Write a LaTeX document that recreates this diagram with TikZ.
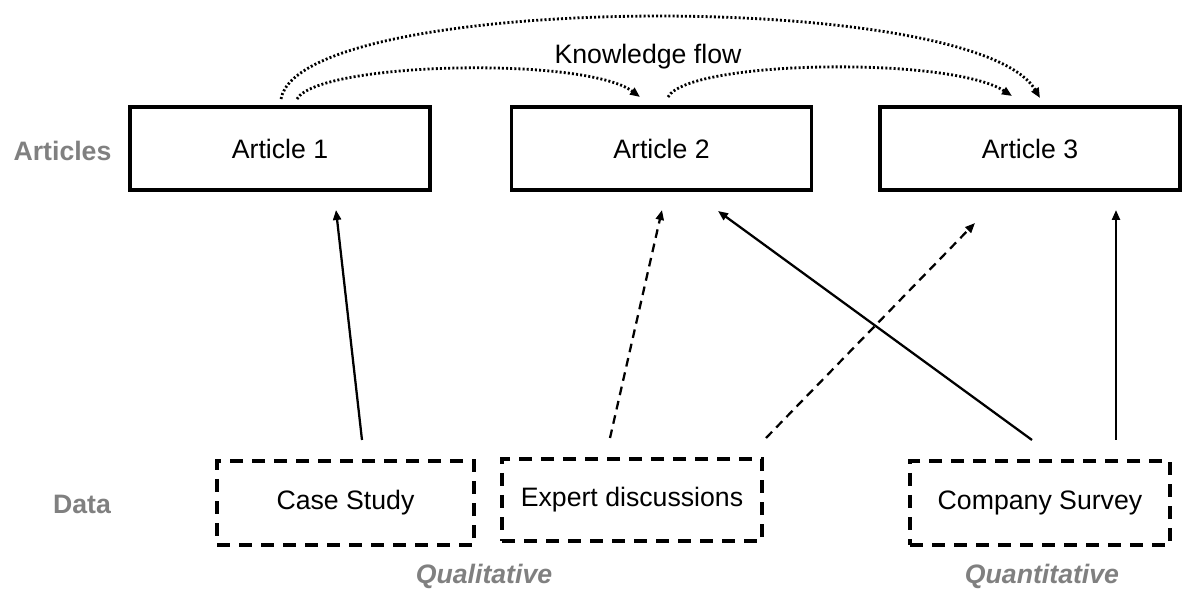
\documentclass[tikz,border=0pt]{standalone}
\usepackage{fontspec}
\setmainfont{Liberation Sans}
\usetikzlibrary{arrows.meta}
\definecolor{labelgray}{RGB}{128,128,128}
\begin{document}
\begin{tikzpicture}[x=0.75pt,y=-0.75pt,
  font=\fontsize{20}{24}\selectfont,
  article/.style={draw, line width=2.6pt, minimum width=225pt, minimum height=62.25pt, inner sep=0pt},
  source/.style={draw, line width=2.6pt, dash pattern=on 10pt off 6.5pt, minimum width=195pt, minimum height=63pt, inner sep=0pt},
  sidelabel/.style={text=labelgray, font=\fontsize{20}{24}\selectfont\bfseries},
  kindlabel/.style={text=labelgray, font=\fontsize{20}{24}\selectfont\bfseries\itshape},
  tip/.style={-{Triangle[length=7.5pt,width=6pt]}},
  link/.style={tip, line width=1.7pt},
  dlink/.style={tip, line width=1.7pt, dash pattern=on 6.5pt off 4.5pt},
  flow/.style={-{Triangle[length=7.5pt,width=6pt]}, line width=2.1pt, dash pattern=on 1.5pt off 1.6pt}
]
\useasboundingbox (0,0) rectangle (1182,598);

% article boxes
\node[article] (a1) at (280,148.5) {Article 1};
\node[article] (a2) at (661.5,148.5) {Article 2};
\node[article] (a3) at (1030,148.5) {Article 3};

% data sources
\node[source, minimum width=192.75pt] (cs) at (345.5,503) {Case Study};
\node[source, minimum height=61.5pt] (ex) at (632,500) {Expert discussions};
\node[source] (sv) at (1040,503) {Company Survey};

% row and column labels
\node[sidelabel] (lart) at (62.5,151) {Articles};
\node[sidelabel] (ldata) at (82,504) {Data};
\node[kindlabel] (lqual) at (484,576) {Qualitative};
\node[kindlabel] (lquan) at (1042,576) {Quantitative};
\node (kf) at (648,57) {Knowledge flow};

% connector end points
\coordinate (a1o) at (281,99);
\coordinate (a1i) at (297,99);
\coordinate (a2in) at (640,97);
\coordinate (a2out) at (668,97);
\coordinate (a3i) at (1012,96);
\coordinate (a3o) at (1040,98);

\coordinate (cs1) at (362,440);
\coordinate (a1b) at (336,210);
\coordinate (ex1) at (610,438);
\coordinate (a2b) at (662,210);
\coordinate (ex2) at (766,438);
\coordinate (a3bl) at (975,223);
\coordinate (sv1) at (1032,440);
\coordinate (a2br) at (718,211);
\coordinate (sv2) at (1116,440);
\coordinate (a3b) at (1116,210);

% knowledge flow arcs
\draw[flow] (a1o) .. controls (300,-8) and (975,-12) .. (a3o);
\draw[flow] (a1i) .. controls (318,62) and (585,56) .. (a2in);
\draw[flow] (a2out) .. controls (688,60) and (950,56) .. (a3i);

% data feeding the articles
\draw[link] (cs1) -- (a1b);
\draw[dlink] (ex1) -- (a2b);
\draw[dlink] (ex2) -- (a3bl);
\draw[link] (sv1) -- (a2br);
\draw[link] (sv2) -- (a3b);
\end{tikzpicture}
\end{document}
